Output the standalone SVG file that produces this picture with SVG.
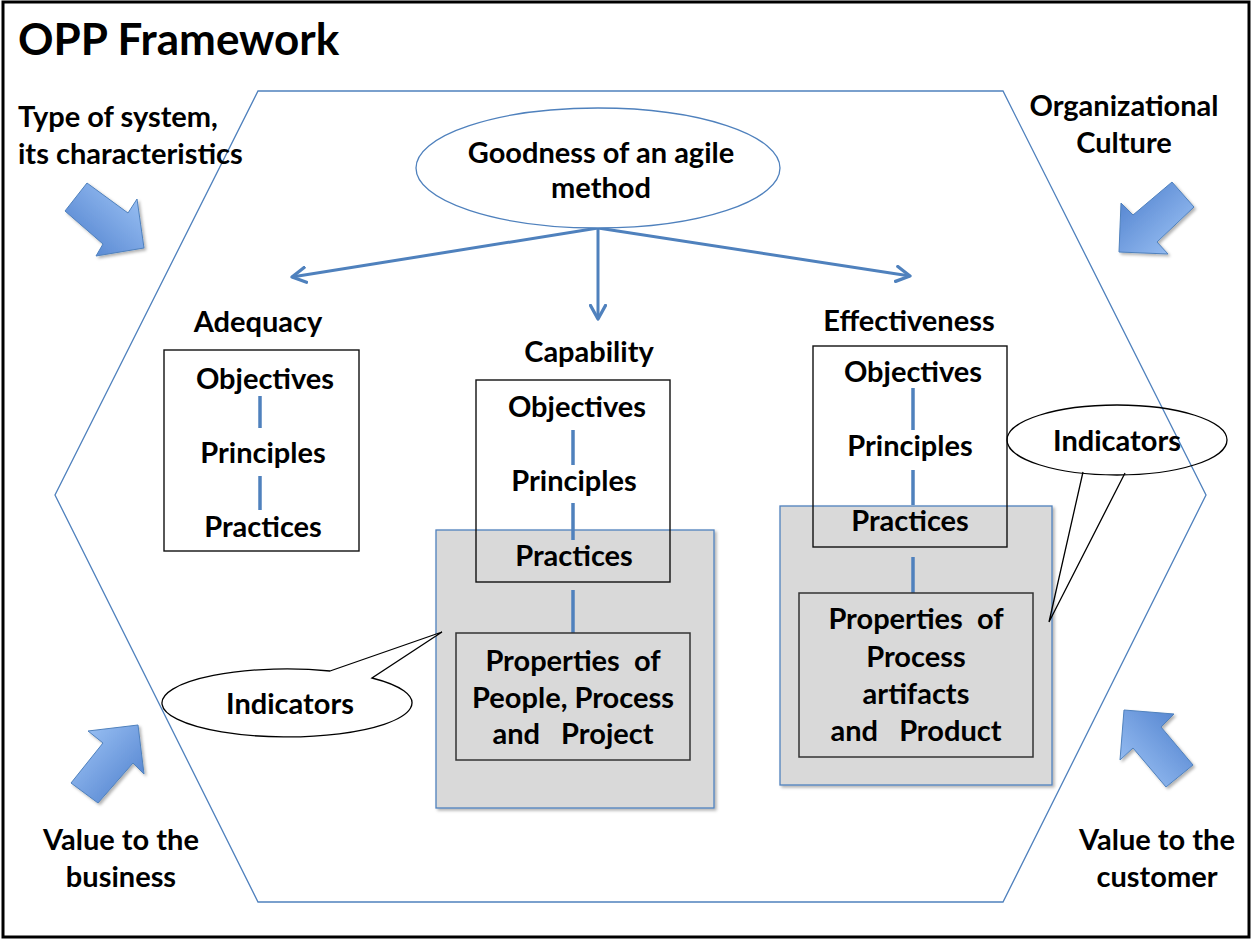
<svg xmlns="http://www.w3.org/2000/svg" width="1253" height="940" viewBox="0 0 1253 940">
<style>
text{font-family:Lato,"Open Sans","Liberation Sans",sans-serif;font-weight:700;fill:#000}
.t{font-size:29px}
.c{text-anchor:middle}
.side{font-size:29px}
.pre{white-space:pre}
.hex{fill:none;stroke:#4f81bd;stroke-width:1.3}
.box{fill:none;stroke:#111;stroke-width:1.4}
.pbox{fill:none;stroke:#333;stroke-width:1.5}
.gray{fill:#d9d9d9;stroke:#4f81bd;stroke-width:1.3}
.link{stroke:#4f81bd;stroke-width:3.5;fill:none}
.arr{stroke:#4f81bd;stroke-width:3;fill:none}
.blk{stroke:#4f81bd;stroke-width:1}
.call{fill:#fff;stroke:#000;stroke-width:1.3}
</style>
<defs>
<marker id="ah" viewBox="0 0 12 12" refX="10" refY="6" markerWidth="6" markerHeight="6" orient="auto" markerUnits="strokeWidth">
<path d="M1,1 L10,6 L1,11" fill="none" stroke="#4f81bd" stroke-width="2.2" stroke-linecap="round" stroke-linejoin="round"/>
</marker>
<linearGradient id="gTL" x1="1" y1="0" x2="0" y2="1"><stop offset="0" stop-color="#a3c8f8"/><stop offset="1" stop-color="#4a7ccb"/></linearGradient>
<linearGradient id="gTR" x1="1" y1="1" x2="0" y2="0"><stop offset="0" stop-color="#a3c8f8"/><stop offset="1" stop-color="#4a7ccb"/></linearGradient>
<linearGradient id="gBL" x1="0" y1="0" x2="1" y2="1"><stop offset="0" stop-color="#a3c8f8"/><stop offset="1" stop-color="#4a7ccb"/></linearGradient>
<linearGradient id="gBR" x1="0" y1="1" x2="1" y2="0"><stop offset="0" stop-color="#a3c8f8"/><stop offset="1" stop-color="#4a7ccb"/></linearGradient>
<filter id="sh" x="-10%" y="-10%" width="125%" height="125%"><feDropShadow dx="2" dy="2" stdDeviation="1.5" flood-color="#000" flood-opacity="0.3"/></filter>
</defs>
<rect x="3" y="2" width="1246" height="935" fill="#fff" stroke="#000" stroke-width="3"/>
<text id="title" x="18" y="55" style="font-size:44px">OPP Framework</text>
<polygon class="hex" points="258,91 1003,91 1206,495 1003,902 258,902 55,495"/>

<g id="arrow-tl"><polygon class="blk" fill="url(#gTL)" filter="url(#sh)" points="87,183 128,213 137,199 144,248 96,256 103,244 65,211"/></g>
<g id="arrow-tr"><polygon class="blk" fill="url(#gTR)" filter="url(#sh)" points="1172,182 1194,207 1157,242 1168,254 1119,252 1121,203 1133,215"/></g>
<g id="arrow-bl"><polygon class="blk" fill="url(#gBL)" filter="url(#sh)" points="138,725 144,774 133,763 98,803 71,783 103,743 88,731"/></g>
<g id="arrow-br"><polygon class="blk" fill="url(#gBR)" filter="url(#sh)" points="1124,710 1174,714 1161,727 1193,765 1166,787 1133,748 1120,760"/></g>

<g id="label-tl"><text class="side" x="18" y="127">Type of system,</text><text class="side" x="18" y="164">its characteristics</text></g>
<g id="label-tr"><text class="side c" x="1124" y="116">Organizational</text><text class="side c" x="1124" y="153">Culture</text></g>
<g id="label-bl"><text class="side c" x="121" y="850">Value to the</text><text class="side c" x="121" y="887">business</text></g>
<g id="label-br"><text class="side c" x="1157" y="850">Value to the</text><text class="side c" x="1157" y="887">customer</text></g>

<g id="gray-capability"><rect class="gray" filter="url(#sh)" x="436" y="530" width="278" height="278"/></g>
<g id="gray-effectiveness"><rect class="gray" filter="url(#sh)" x="780" y="506" width="272" height="279"/></g>

<g id="connectors">
<line class="arr" x1="598" y1="228" x2="292" y2="277" marker-end="url(#ah)"/>
<line class="arr" x1="598" y1="228" x2="598" y2="319" marker-end="url(#ah)"/>
<line class="arr" x1="598" y1="228" x2="910" y2="276" marker-end="url(#ah)"/>
<line class="link" x1="260" y1="396" x2="260" y2="428"/>
<line class="link" x1="260" y1="476" x2="260" y2="510"/>
<line class="link" x1="573" y1="430" x2="573" y2="465"/>
<line class="link" x1="573" y1="503" x2="573" y2="540"/>
<line class="link" x1="573" y1="590" x2="573" y2="633"/>
<line class="link" x1="913" y1="388" x2="913" y2="430"/>
<line class="link" x1="913" y1="470" x2="913" y2="505"/>
<line class="link" x1="913" y1="557" x2="913" y2="593"/>
</g>

<g id="goodness"><ellipse cx="598" cy="168" rx="182" ry="60" fill="#fff" stroke="#4f81bd" stroke-width="1.3"/>
<text class="t c" x="601" y="163">Goodness of an agile</text><text class="t c" x="601" y="198">method</text></g>

<g id="adequacy"><text class="t c" x="258" y="332">Adequacy</text>
<rect class="box" x="164" y="350" width="195" height="201"/>
<text class="t c" x="265" y="389">Objectives</text><text class="t c" x="263" y="463">Principles</text><text class="t c" x="263" y="537">Practices</text></g>

<g id="capability"><text class="t c" x="589" y="362">Capability</text>
<rect class="box" x="476" y="380" width="194" height="202"/>
<text class="t c" x="577" y="417">Objectives</text><text class="t c" x="574" y="491">Principles</text><text class="t c" x="574" y="566">Practices</text></g>

<g id="effectiveness"><text class="t c" x="909" y="331">Effectiveness</text>
<rect class="box" x="813" y="346" width="194" height="201"/>
<text class="t c" x="913" y="382">Objectives</text><text class="t c" x="910" y="456">Principles</text><text class="t c" x="910" y="531">Practices</text></g>

<g id="props-capability"><rect class="pbox" x="456" y="633" width="234" height="127"/>
<text class="t c pre" x="573" y="671" xml:space="preserve">Properties  of</text><text class="t c" x="573" y="708">People, Process</text><text class="t c pre" x="573" y="744" xml:space="preserve">and   Project</text></g>

<g id="props-effectiveness"><rect class="pbox" x="799" y="593" width="234" height="164"/>
<text class="t c pre" x="916" y="629" xml:space="preserve">Properties  of</text><text class="t c" x="916" y="667">Process</text><text class="t c" x="916" y="704">artifacts</text><text class="t c pre" x="916" y="741" xml:space="preserve">and   Product</text></g>

<g id="callout-left"><path class="call" d="M330,671 L442,632 L372,678 A125,34 0 1 1 330,671 Z"/>
<text class="t c" x="290" y="714">Indicators</text></g>

<g id="callout-right"><path fill="none" stroke="#000" stroke-width="1.3" d="M1083,472 L1049,622 L1125,473"/>
<ellipse cx="1117" cy="440" rx="110" ry="35" fill="none" stroke="#000" stroke-width="1.3"/>
<text class="t c" x="1117" y="451">Indicators</text></g>
</svg>
